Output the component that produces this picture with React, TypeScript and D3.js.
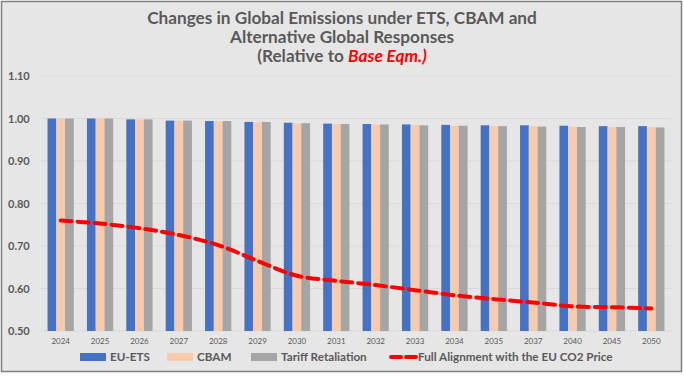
import React from "react";
import * as d3 from "d3";

const years = ["2024","2025","2026","2027","2028","2029","2030","2031","2032","2033","2034","2035","2037","2040","2045","2050"];
const euEts = [1.0,1.0,0.998,0.995,0.994,0.992,0.990,0.988,0.987,0.986,0.985,0.984,0.984,0.983,0.982,0.982];
const cbam = [1.0,1.0,0.998,0.995,0.993,0.991,0.988,0.987,0.986,0.985,0.983,0.982,0.982,0.981,0.980,0.980];
const tariff = [1.0,1.0,0.998,0.995,0.994,0.992,0.989,0.987,0.986,0.984,0.983,0.982,0.981,0.980,0.980,0.979];
const fullAlign = [0.760,0.753,0.742,0.726,0.702,0.665,0.630,0.618,0.608,0.596,0.584,0.575,0.567,0.558,0.556,0.553];
const yTicks = [0.5,0.6,0.7,0.8,0.9,1.0,1.1];
const seriesNames = ["EU-ETS","CBAM","Tariff Retaliation"];
const colors = ["#4472C4","#F8CBAD","#A5A5A5"];
const lineName = "Full Alignment with the EU CO2 Price";

const W = 684, H = 376;
const FONT = "Lato, 'Open Sans', sans-serif";

export default function App() {
  const x = d3.scaleBand().domain(years).range([41, 671]).paddingInner(0).paddingOuter(0);
  const y = d3.scaleLinear().domain([0.5, 1.1]).range([331, 76]);
  const groupW = x.bandwidth() / 1.5;
  const xs = d3.scaleBand().domain(seriesNames).range([0, groupW]);
  const allSeries = [euEts, cbam, tariff];
  const line = d3.line<number>()
    .x((_, i) => (x(years[i]) as number) + x.bandwidth() / 2)
    .y((d) => y(d))
    .curve(d3.curveCatmullRom.alpha(0.5));

  const legendItems = [
    { label: seriesNames[0], color: colors[0], sx: 80, tx: 110 },
    { label: seriesNames[1], color: colors[1], sx: 167, tx: 197 },
    { label: seriesNames[2], color: colors[2], sx: 251, tx: 281 },
  ];

  return (
    <svg width={W} height={H} style={{ position: "absolute", left: 0, top: 0 }} fontFamily={FONT}>
      <rect x={1.5} y={1.5} width={680} height={370} fill="#E7E6E6" stroke="#7F7F7F" strokeWidth={1.5} />
      <g fontWeight="bold" fill="#595959" fontSize={17.2} textAnchor="middle">
        <text x={342} y={24}>Changes in Global Emissions under ETS, CBAM and</text>
        <text x={342} y={43}>Alternative Global Responses</text>
        <text x={342} y={62}>(Relative to <tspan fill="#FF0000" fontStyle="italic">Base Eqm.)</tspan></text>
      </g>
      {yTicks.map((t) => (
        <g key={t}>
          <line x1={41} x2={671} y1={y(t)} y2={y(t)} stroke="#D9D9D9" strokeWidth={1} />
          <text x={8} y={y(t) + 4} fontSize={11} fontWeight="bold" fill="#595959">{t.toFixed(2)}</text>
        </g>
      ))}
      {allSeries.map((s, si) => (
        <g key={si}>
          {s.map((v, i) => (
            <rect key={i}
              x={(x(years[i]) as number) + (x.bandwidth() - groupW) / 2 + (xs(seriesNames[si]) as number)}
              y={y(v)} width={xs.bandwidth()} height={y(0.5) - y(v)} fill={colors[si]} />
          ))}
        </g>
      ))}
      <path d={line(fullAlign) || ""} fill="none" stroke="#FF0000" strokeWidth={4} strokeDasharray="11 6" strokeLinecap="round" />
      {years.map((yr) => (
        <text key={yr} x={(x(yr) as number) + x.bandwidth() / 2} y={344} fontSize={8} fill="#595959" textAnchor="middle">{yr}</text>
      ))}
      <g fontSize={11.7} fontWeight="bold" fill="#595959">
        {legendItems.map((l) => (
          <g key={l.label}>
            <rect x={l.sx} y={353} width={26} height={8} fill={l.color} />
            <text x={l.tx} y={361}>{l.label}</text>
          </g>
        ))}
        <line x1={391} x2={416} y1={357} y2={357} stroke="#FF0000" strokeWidth={4} strokeDasharray="10 5" strokeLinecap="round" />
        <text x={418} y={361}>{lineName}</text>
      </g>
    </svg>
  );
}
